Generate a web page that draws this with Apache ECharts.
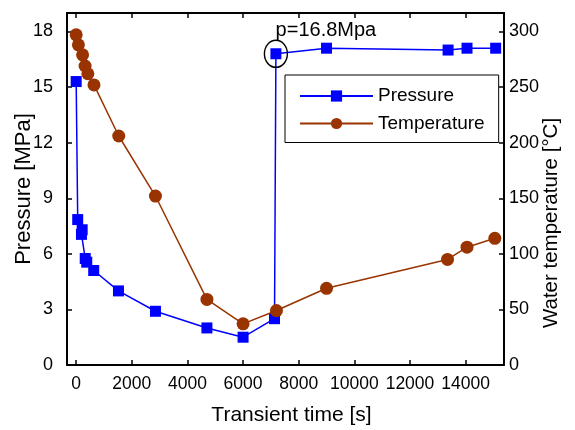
<!DOCTYPE html>
<html>
<head>
<meta charset="utf-8">
<script src="https://cdn.jsdelivr.net/npm/echarts@6/dist/echarts.min.js"></script>
<style>
  html, body { margin: 0; padding: 0; background: #fff; }
  #chart { width: 575px; height: 430px; }
</style>
</head>
<body>
<div id="chart"></div>
<script>
// Transient pressure history (s, MPa)
const pressureTime = [0, 55, 215, 190, 325, 380, 630, 1520, 2850, 4700, 6000, 7130, 7180, 9000, 13370, 14050, 15080];
const pressureValue = [15.3, 7.85, 7.3, 7.05, 5.75, 5.55, 5.1, 4.0, 2.9, 2.0, 1.5, 2.5, 16.8, 17.1, 17.0, 17.1, 17.1];

// Water temperature history (s, °C)
const temperatureTime = [0, 80, 230, 320, 420, 640, 1530, 2850, 4700, 6000, 7200, 9000, 13350, 14050, 15050];
const temperatureValue = [297, 288, 279, 269, 262, 252, 206, 152, 59, 37, 49, 69, 95, 106, 114];

// Tick positions
const timeTicks = [0, 2000, 4000, 6000, 8000, 10000, 12000, 14000];
const pressureTicks = [0, 3, 6, 9, 12, 15, 18];
const temperatureTicks = [0, 50, 100, 150, 200, 250, 300];

// Annotated peak pressure after recovery
const peakTime = 7180;
const peakPressure = 16.8;

const FONT = '"Liberation Sans", Arial, sans-serif';
const BLUE = '#0000ff';
const BROWN = '#993300';

const zip = (xs, ys) => xs.map((x, i) => [x, ys[i]]);

const axisLineStyle = { show: true, onZero: false, lineStyle: { color: '#000', width: 2 } };
const tickStyle = { lineStyle: { color: '#000', width: 1.5 } };
const plain = v => String(v);

const chart = echarts.init(document.getElementById('chart'), null, { renderer: 'canvas' });

chart.setOption({
  animation: false,
  backgroundColor: '#fff',
  grid: { left: 67, right: 71, top: 13, bottom: 65, containLabel: false, outerBoundsMode: 'none' },
  legend: {
    orient: 'vertical',
    left: 285,
    top: 75,
    width: 215,
    padding: [11, 14, 9, 14],
    itemGap: 7.5,
    itemWidth: 73,
    itemHeight: 14,
    borderColor: '#000',
    borderWidth: 1,
    backgroundColor: '#fff',
    textStyle: { fontFamily: FONT, fontSize: 19, color: '#000', lineHeight: 20 },
    data: ['Pressure', 'Temperature']
  },
  xAxis: [
    {
      type: 'value',
      position: 'bottom',
      min: -330,
      max: 15380,
      name: 'Transient time [s]',
      nameLocation: 'middle',
      nameGap: 40,
      nameMoveOverlap: false,
      nameTextStyle: { fontFamily: FONT, fontSize: 21, color: '#000', padding: [0, 0, 0, 12] },
      axisLine: axisLineStyle,
      axisTick: { show: true, inside: true, length: 5, customValues: timeTicks, ...tickStyle },
      axisLabel: { customValues: timeTicks, formatter: plain, hideOverlap: false, fontFamily: FONT, fontSize: 17.5, color: '#000', margin: 10 },
      splitLine: { show: false }
    },
    {
      type: 'value',
      position: 'top',
      min: -330,
      max: 15380,
      axisLine: axisLineStyle,
      axisTick: { show: true, inside: true, length: 5, customValues: timeTicks, ...tickStyle },
      axisLabel: { show: false },
      splitLine: { show: false }
    }
  ],
  yAxis: [
    {
      type: 'value',
      position: 'left',
      min: 0,
      max: 19,
      name: 'Pressure [MPa]',
      nameLocation: 'middle',
      nameGap: 32,
      nameMoveOverlap: false,
      nameTextStyle: { fontFamily: FONT, fontSize: 22, color: '#000' },
      axisLine: axisLineStyle,
      axisTick: { show: true, inside: true, length: 5, customValues: pressureTicks, ...tickStyle },
      axisLabel: { customValues: pressureTicks, formatter: plain, fontFamily: FONT, fontSize: 18, color: '#000', margin: 14 },
      splitLine: { show: false }
    },
    {
      type: 'value',
      position: 'right',
      min: 0,
      max: 300 * 19 / 18,
      name: 'Water temperature [°C]',
      nameLocation: 'middle',
      nameGap: 37,
      nameRotate: 90,
      nameMoveOverlap: false,
      nameTextStyle: { fontFamily: FONT, fontSize: 20.5, color: '#000', padding: [0, 68, 0, 0] },
      axisLine: axisLineStyle,
      axisTick: { show: true, inside: true, length: 5, customValues: temperatureTicks, ...tickStyle },
      axisLabel: { customValues: temperatureTicks, formatter: plain, fontFamily: FONT, fontSize: 18, color: '#000', margin: 5 },
      splitLine: { show: false }
    }
  ],
  series: [
    {
      name: 'Pressure',
      type: 'line',
      xAxisIndex: 0,
      yAxisIndex: 0,
      z: 2,
      data: zip(pressureTime, pressureValue),
      symbol: 'rect',
      symbolSize: 11,
      showAllSymbol: true,
      lineStyle: { color: BLUE, width: 1.5 },
      itemStyle: { color: BLUE, borderWidth: 0 },
      markPoint: {
        symbol: 'circle',
        symbolSize: [23, 27],
        silent: true,
        itemStyle: { color: 'rgba(0,0,0,0)', borderColor: '#000', borderWidth: 1.5 },
        label: {
          show: true,
          formatter: 'p=' + peakPressure + 'Mpa',
          position: 'top',
          distance: 1,
          offset: [50, 2],
          fontFamily: FONT,
          fontSize: 20,
          color: '#000'
        },
        data: [{ coord: [peakTime, peakPressure] }]
      }
    },
    {
      name: 'Temperature',
      type: 'line',
      xAxisIndex: 0,
      yAxisIndex: 1,
      z: 3,
      data: zip(temperatureTime, temperatureValue),
      symbol: 'circle',
      symbolSize: 13,
      showAllSymbol: true,
      lineStyle: { color: BROWN, width: 1.5 },
      itemStyle: { color: BROWN, borderWidth: 0 }
    }
  ]
});
</script>
</body>
</html>
